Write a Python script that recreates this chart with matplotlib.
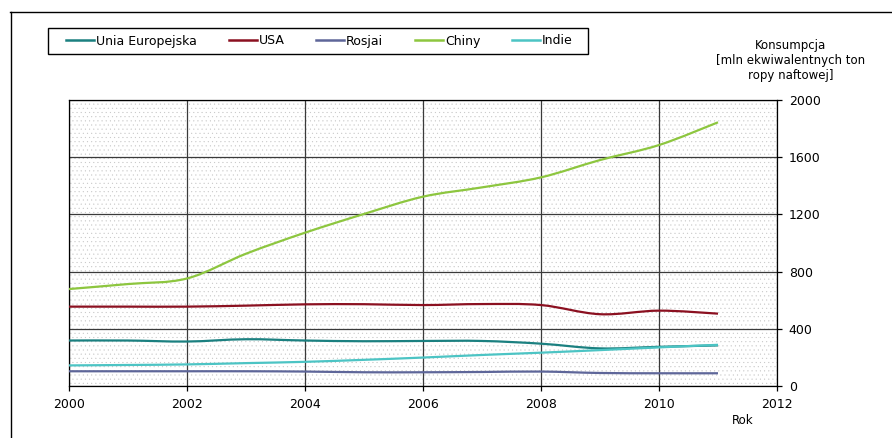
import matplotlib
matplotlib.use('Agg')
import matplotlib.pyplot as plt
from matplotlib.path import Path
from matplotlib.patches import PathPatch, Rectangle
from matplotlib.lines import Line2D
import numpy as np

# ---- data ----
years = [2000, 2001, 2002, 2003, 2004, 2005, 2006, 2007, 2008, 2009, 2010, 2011]
unia_europejska = [318, 318, 311, 327, 318, 313, 315, 315, 296, 263, 274, 284]
usa = [555, 555, 555, 562, 571, 572, 566, 573, 566, 502, 527, 506]
rosja = [103, 103, 103, 103, 101, 96, 96, 98, 101, 91, 89, 89]
chiny = [678, 713, 752, 925, 1072, 1203, 1324, 1389, 1459, 1580, 1685, 1844]
indie = [144, 147, 151, 160, 169, 183, 199, 217, 233, 251, 270, 288]

series_names = ['Unia Europejska', 'USA', 'Rosjai', 'Chiny', 'Indie']
series_values = [unia_europejska, usa, rosja, chiny, indie]
series_colors = ['#1B8080', '#8B1020', '#5E6699', '#8DC63F', '#4CC4C4']

x_ticks = [2000, 2002, 2004, 2006, 2008, 2010, 2012]
y_ticks = [0, 400, 800, 1200, 1600, 2000]
y_title = ['Konsumpcja', '[mln ekwiwalentnych ton', 'ropy naftowej]']
x_title = 'Rok'

# ---- figure ----
plt.rcParams['font.family'] = ['DejaVu Sans']
plt.rcParams['hatch.color'] = '#c4c4c4'
plt.rcParams['hatch.linewidth'] = 0.25

W, H = 892, 438
fig = plt.figure(figsize=(W / 100, H / 100), dpi=100)
fig.patch.set_facecolor('white')

ax = fig.add_axes([69 / W, 1 - 386 / H, (777 - 69) / W, 286 / H])
ax.set_xlim(x_ticks[0], x_ticks[-1])
ax.set_ylim(y_ticks[0], y_ticks[-1])
ax.patch.set_facecolor('white')
ax.patch.set_hatch('....')
ax.patch.set_edgecolor('#c4c4c4')
ax.patch.set_linewidth(0)

ax.set_xticks(x_ticks)
ax.set_yticks(y_ticks)
ax.yaxis.tick_right()
ax.tick_params(direction='out', length=3.5, width=0.9, pad=5, labelsize=9,
               colors='black')
ax.grid(True, color='#3a3a3a', lw=0.9)
ax.set_axisbelow(True)
for s in ax.spines.values():
    s.set_color('black')
    s.set_linewidth(0.9)


def smooth_path(xs, ys):
    pts = np.column_stack([xs, ys]).astype(float)
    n = len(pts)
    verts = [pts[0]]
    codes = [Path.MOVETO]
    for i in range(n - 1):
        p0 = pts[i - 1] if i > 0 else pts[i]
        p1 = pts[i]
        p2 = pts[i + 1]
        p3 = pts[i + 2] if i + 2 < n else pts[i + 1]
        c1 = p1 + (p2 - p0) / 6.0
        c2 = p2 - (p3 - p1) / 6.0
        verts += [c1, c2, p2]
        codes += [Path.CURVE4] * 3
    return Path(verts, codes)


handles = []
for name, vals, col in zip(series_names, series_values, series_colors):
    patch = PathPatch(smooth_path(years, vals), fill=False, edgecolor=col,
                      lw=1.6, capstyle='butt', joinstyle='round', zorder=3)
    ax.add_patch(patch)
    handles.append(Line2D([], [], color=col, lw=1.8))

# legend frame + legend
fig.add_artist(Rectangle((48 / W, 1 - 54 / H), 540 / W, 26 / H,
                         transform=fig.transFigure, fill=False,
                         edgecolor='black', lw=1.0))
fig.legend(handles, series_names, loc='center left',
           bbox_to_anchor=(66 / W, 1 - 41 / H), ncol=5, frameon=False,
           borderpad=0, borderaxespad=0, handlelength=2.24,
           handletextpad=0.15, columnspacing=2.55, fontsize=9)

# axis titles
for i, t in enumerate(y_title):
    fig.text(791 / W, 1 - (46 + 14.7 * i) / H, t, ha='center', va='center',
             fontsize=8.5)
fig.text(743 / W, 1 - 421 / H, x_title, ha='center', va='center', fontsize=8.5)

# outer frame (top and left)
fig.add_artist(Line2D([10 / W, 1], [1 - 12 / H, 1 - 12 / H],
                      transform=fig.transFigure, color='black', lw=1.0))
fig.add_artist(Line2D([11 / W, 11 / W], [0, 1 - 12 / H],
                      transform=fig.transFigure, color='black', lw=1.0))

fig.savefig('out.png', dpi=100)
